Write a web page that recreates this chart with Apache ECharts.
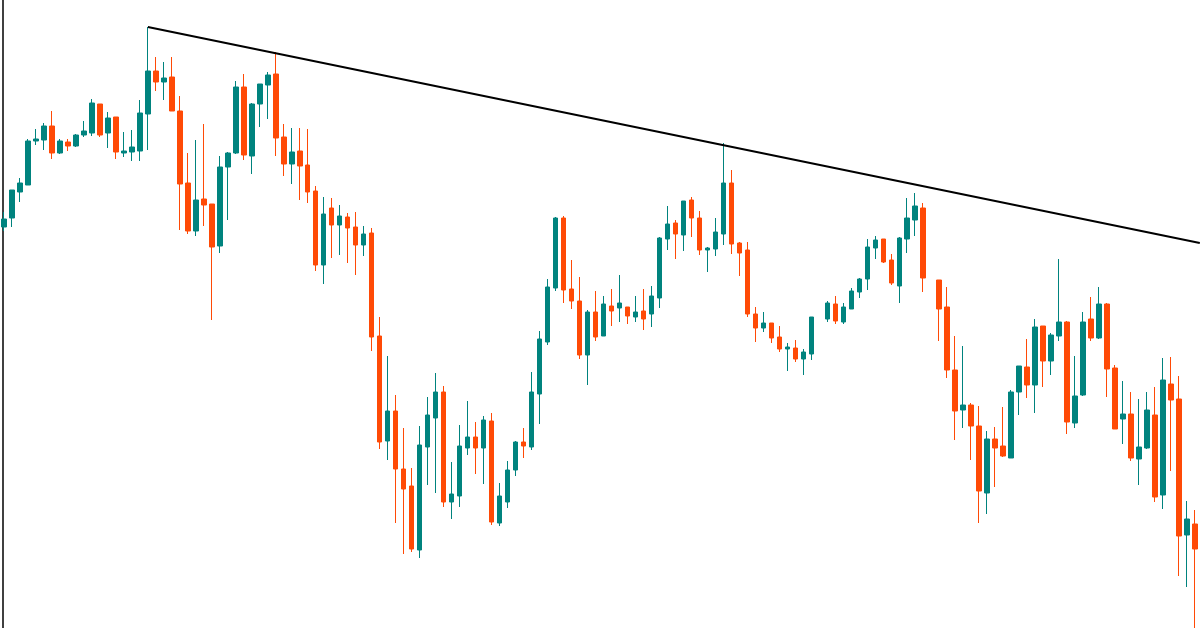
<!DOCTYPE html>
<html>
<head>
<meta charset="utf-8">
<script src="https://cdn.jsdelivr.net/npm/echarts@6/dist/echarts.min.js"></script>
<style>html,body{margin:0;padding:0;background:#fff}#chart{width:1200px;height:628px}</style>
</head>
<body>
<div id="chart"></div>
<script>
// candles read off the picture as screen levels: [open, close, low, high], '-' = no bar
var levels = [
  [227,219,231,212],[218,190,227,190],[192,183,202,178],[185,141,185,139],[141,139,145,129],
  [140,126,150,123],[126,153,159,111],[153,141,154,139],[142,146,151,139],[146,135,147,134],
  [135,131,137,121],[133,103,136,99],[104,135,137,104],[133,118,148,112],[117,152,159,117],
  [153,151,157,132],[152,147,161,130],[151,113,161,100],[114,71,150,27],[71,82,91,57],
  [82,78,100,62],[77,111,111,57],[111,184,230,96],[183,231,234,153],[231,200,236,140],
  [199,205,226,124],[204,247,320,204],[246,167,253,156],[167,153,220,152],[153,87,154,81],
  [87,155,160,74],[156,104,174,103],[104,84,127,84],[85,75,119,72],[74,138,156,52],
  [137,164,176,124],[164,152,184,128],[151,166,200,128],[165,192,203,129],[191,265,271,186],
  [265,214,284,197],[208,225,258,198],[225,216,255,205],[217,228,263,213],[227,245,275,212],
  [245,234,256,226],[233,337,351,228],[336,442,449,317],[441,411,460,356],[411,469,523,395],
  [469,489,554,428],[486,549,552,468],[550,445,558,426],[447,415,485,397],[418,392,493,373],
  [392,502,507,386],[502,494,519,462],[496,446,507,425],[448,437,455,401],[437,448,474,422],
  [448,420,484,416],[421,522,525,413],[523,496,526,483],[502,470,508,461],[470,442,476,441],
  [442,446,458,428],[447,392,450,372],[394,339,424,331],[342,287,345,279],[288,218,291,217],
  [218,290,303,216],[289,301,309,260],[301,355,359,277],[355,312,385,310],[312,337,341,291],
  [336,304,336,296],[306,311,326,289],[308,303,322,275],[307,316,324,307],[317,312,322,296],
  [311,319,330,289],[314,296,327,286],[298,238,308,237],[239,224,250,206],[223,234,259,220],
  [235,201,251,201],[200,218,237,197],[218,250,255,211],[250,248,272,247],[249,232,256,218],
  [234,183,245,143],[183,244,254,170],[243,253,276,242],[250,314,317,242],[314,328,342,307],
  [328,323,332,312],[323,338,343,323],[337,349,352,326],[349,347,371,343],[348,359,362,340],
  [359,352,375,349],[354,317,360,317],'-',[319,303,322,301],[304,321,324,296],
  [322,307,324,303],[309,291,309,288],[292,279,298,278],[279,247,290,239],[248,240,259,236],
  [239,262,263,239],[260,283,285,254],[286,238,303,237],[239,218,253,198],[220,206,236,193],
  [208,278,292,203],'-',[280,309,341,280],[307,370,378,287],[370,411,440,336],
  [410,405,428,346],[405,426,460,403],[426,491,523,406],[493,439,514,431],[439,448,487,427],
  [446,456,457,407],[458,392,458,390],[392,366,415,366],[367,385,398,339],[385,327,413,319],
  [326,361,387,326],[361,335,375,333],[336,322,341,259],[322,422,434,321],[423,396,428,356],
  [395,322,396,312],[319,338,341,297],[338,304,339,287],[304,369,397,303],[368,429,429,365],
  [419,414,444,381],[414,458,461,392],[459,447,485,399],[448,410,449,392],[415,497,502,387],
  [495,380,509,358],[384,400,471,357],[399,536,576,376],[535,519,587,501],[524,549,628,510]
];
var trendX = [18.5, 150.1];
var trendLevel = [27, 243];

var categories = levels.map(function (d, i) { return String(i); });
var H = 628;
var candles = levels.map(function (d) {
  if (d === '-') return '-';
  return d.map(function (v) { return H - v; });
});
var trend = trendX.map(function (x, i) { return [x, H - trendLevel[i]]; });

var chart = echarts.init(document.getElementById('chart'));
chart.setOption({
  animation: false,
  backgroundColor: '#fff',
  grid: {left: -1, right: 1, top: 0, bottom: 0},
  xAxis: [
    {type: 'category', data: categories, show: false},
    {type: 'value', min: 0, max: 150, show: false}
  ],
  yAxis: {
    type: 'value', min: 0, max: H, offset: -3,
    axisLine: {show: true, lineStyle: {color: '#000', width: 1.5}},
    axisTick: {show: false}, axisLabel: {show: false}, splitLine: {show: false}
  },
  series: [
    {
      type: 'candlestick',
      data: candles,
      barWidth: 5,
      itemStyle: {
        color: '#00837e', color0: '#ff4a06',
        borderColor: '#00837e', borderColor0: '#ff4a06', borderWidth: 1
      }
    },
    {
      type: 'line',
      xAxisIndex: 1,
      data: trend,
      symbol: 'none',
      lineStyle: {color: '#000', width: 2}
    }
  ]
});
</script>
</body>
</html>
